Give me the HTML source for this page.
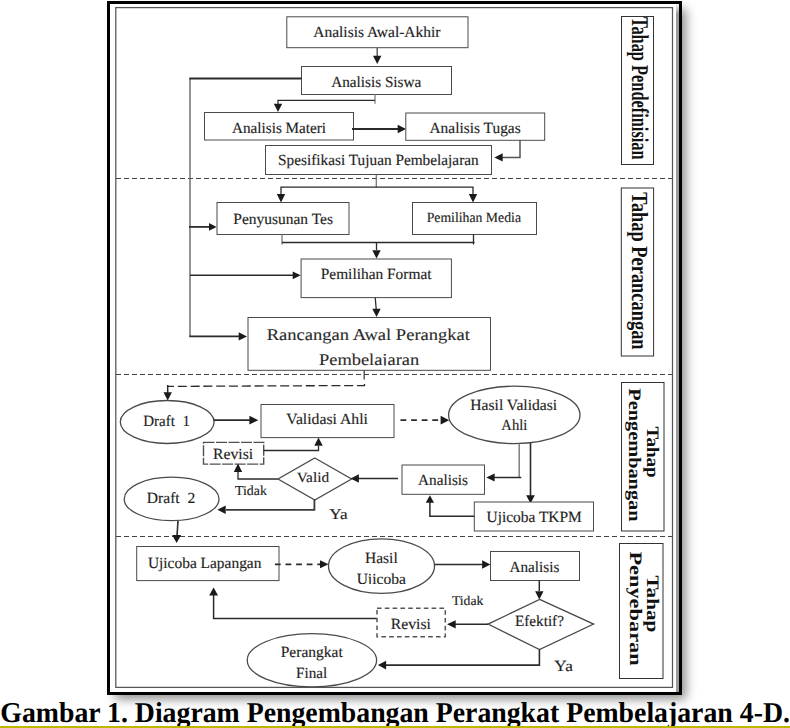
<!DOCTYPE html>
<html><head><meta charset="utf-8"><style>
html,body{margin:0;padding:0;background:#fff;}
body{width:790px;height:728px;overflow:hidden;position:relative;font-family:"Liberation Serif",serif;}
#frame{position:absolute;left:107px;top:1px;width:575px;height:694px;box-shadow:6px 6px 10px -2px rgba(0,0,0,0.45);background:#fff;}
svg{position:absolute;left:0;top:0;font-family:"Liberation Serif",serif;} text{text-rendering:geometricPrecision;}
#cap{position:absolute;left:0;top:726px;width:790px;height:2px;background:#bdb700;}
</style></head><body>
<div id="frame"></div>
<svg width="790" height="728" viewBox="0 0 790 728" font-family="'Liberation Serif', serif">
<rect x="115.8" y="7.6" width="556.7" height="679.8" fill="none" stroke="#555" stroke-width="1.25"/>
<linearGradient id="gs" x1="0" y1="4" x2="0" y2="14" gradientUnits="userSpaceOnUse"><stop offset="0" stop-color="#f4f4f4"/><stop offset="1" stop-color="#9a9a9a"/></linearGradient>
<rect x="676" y="4" width="3" height="688" fill="url(#gs)"/>
<rect x="108.5" y="2.5" width="572" height="691" fill="none" stroke="#000" stroke-width="3"/>
<line x1="116" y1="178.5" x2="672" y2="178.5" stroke="#444" stroke-width="1.2" stroke-dasharray="5 3"/>
<line x1="116" y1="374.5" x2="672" y2="374.5" stroke="#444" stroke-width="1.2" stroke-dasharray="5 3"/>
<line x1="116" y1="536.5" x2="672" y2="536.5" stroke="#444" stroke-width="1.2" stroke-dasharray="5 3"/>
<rect x="286.8" y="16.8" width="181.2" height="30.9" fill="#fff" stroke="#4a4a4a" stroke-width="1"/>
<text x="313.24" y="37.48" font-size="15.5" fill="#1e1e1e" stroke="#1e1e1e" stroke-width="0.15" textLength="127.3" lengthAdjust="spacingAndGlyphs">Analisis Awal-Akhir</text>
<polyline points="377.2,48 377.2,56" fill="none" stroke="#555" stroke-width="1.4"/>
<polygon points="377.2,64 373.0,55.7 381.4,55.7" fill="#1a1a1a"/>
<rect x="301.5" y="66.5" width="150.0" height="28.0" fill="#fff" stroke="#4a4a4a" stroke-width="1"/>
<text x="331.18" y="87.18" font-size="15.5" fill="#1e1e1e" stroke="#1e1e1e" stroke-width="0.15" textLength="90.08" lengthAdjust="spacingAndGlyphs">Analisis Siswa</text>
<polyline points="190,78.6 190,336.4" fill="none" stroke="#666" stroke-width="1.4"/>
<polyline points="301.5,78.6 189.3,78.6" fill="none" stroke="#2b2b2b" stroke-width="2"/>
<polyline points="189.3,336.4 239,336.4" fill="none" stroke="#2b2b2b" stroke-width="1.6"/>
<polygon points="247,336.4 238.7,332.2 238.7,340.59999999999997" fill="#1a1a1a"/>
<polyline points="189,226.9 209,226.9" fill="none" stroke="#2b2b2b" stroke-width="1.8"/>
<polygon points="216.6,226.9 209.0,222.95000000000002 209.0,230.85" fill="#1a1a1a"/>
<polyline points="190,275.3 293,275.3" fill="none" stroke="#2b2b2b" stroke-width="1.5"/>
<polygon points="300.7,275.3 292.7,271.40000000000003 292.7,279.2" fill="#1a1a1a"/>
<polyline points="375,94.5 375,103.7" fill="none" stroke="#888" stroke-width="1.4"/>
<polyline points="375,100.3 278,100.3 278,104" fill="none" stroke="#2b2b2b" stroke-width="1.3"/>
<polygon points="278,112 273.8,103.7 282.2,103.7" fill="#1a1a1a"/>
<rect x="204.5" y="112.5" width="149.0" height="27.5" fill="#fff" stroke="#4a4a4a" stroke-width="1"/>
<text x="232.0" y="132.52" font-size="15.5" fill="#1e1e1e" stroke="#1e1e1e" stroke-width="0.15" textLength="94.08" lengthAdjust="spacingAndGlyphs">Analisis Materi</text>
<polyline points="352,129 398,129" fill="none" stroke="#2b2b2b" stroke-width="2.2"/>
<polygon points="406,129 397.7,124.8 397.7,133.2" fill="#1a1a1a"/>
<rect x="405.8" y="113" width="138.9" height="27.3" fill="#fff" stroke="#4a4a4a" stroke-width="1"/>
<text x="429.46" y="132.52" font-size="15.5" fill="#1e1e1e" stroke="#1e1e1e" stroke-width="0.15" textLength="91.28" lengthAdjust="spacingAndGlyphs">Analisis Tugas</text>
<polyline points="520,140 520,157.4 502,157.4" fill="none" stroke="#555" stroke-width="1.5"/>
<polygon points="494.4,157.4 502.7,153.20000000000002 502.7,161.6" fill="#1a1a1a"/>
<rect x="265.5" y="145.5" width="226.0" height="29.0" fill="#fff" stroke="#4a4a4a" stroke-width="1"/>
<text x="278.02" y="165.1" font-size="15.5" fill="#1e1e1e" stroke="#1e1e1e" stroke-width="0.15" textLength="200.7" lengthAdjust="spacingAndGlyphs">Spesifikasi Tujuan Pembelajaran</text>
<polyline points="376.3,174.5 376.3,187.2" fill="none" stroke="#777" stroke-width="1.3"/>
<polyline points="281,194 281,187.2 473,187.2 473,194" fill="none" stroke="#2b2b2b" stroke-width="1.3"/>
<polygon points="281,202.4 276.8,194.1 285.2,194.1" fill="#1a1a1a"/>
<polygon points="473,202.4 468.8,194.1 477.2,194.1" fill="#1a1a1a"/>
<rect x="217" y="202.5" width="132" height="32.0" fill="#fff" stroke="#4a4a4a" stroke-width="1"/>
<text x="233.28" y="223.8" font-size="15.5" fill="#1e1e1e" stroke="#1e1e1e" stroke-width="0.15" textLength="99.72" lengthAdjust="spacingAndGlyphs">Penyusunan Tes</text>
<rect x="412.5" y="202.5" width="124.0" height="32.0" fill="#fff" stroke="#4a4a4a" stroke-width="1"/>
<text x="426.66" y="221.52" font-size="14.2" fill="#1e1e1e" stroke="#1e1e1e" stroke-width="0.15" textLength="94.34" lengthAdjust="spacingAndGlyphs">Pemilihan Media</text>
<polyline points="282,234.5 282,244.5" fill="none" stroke="#777" stroke-width="1.3"/>
<polyline points="473.5,234.5 473.5,244.5" fill="none" stroke="#2b2b2b" stroke-width="1.3"/>
<polyline points="282,242.5 474.5,242.5" fill="none" stroke="#2b2b2b" stroke-width="1.3"/>
<polyline points="376.5,242.7 376.5,250" fill="none" stroke="#2b2b2b" stroke-width="1.3"/>
<polygon points="376.5,258.6 372.3,250.3 380.7,250.3" fill="#1a1a1a"/>
<rect x="301.1" y="259" width="150.3" height="38.6" fill="#fff" stroke="#4a4a4a" stroke-width="1"/>
<text x="320.74" y="278.98" font-size="15.5" fill="#1e1e1e" stroke="#1e1e1e" stroke-width="0.15" textLength="110.8" lengthAdjust="spacingAndGlyphs">Pemilihan Format</text>
<polyline points="375.2,297.5 376.2,309" fill="none" stroke="#2b2b2b" stroke-width="1.3"/>
<polygon points="376.5,317 372.3,308.7 380.7,308.7" fill="#1a1a1a"/>
<rect x="248" y="317.5" width="242.5" height="52.8" fill="#fff" stroke="#4a4a4a" stroke-width="1"/>
<text x="266.74" y="340.24" font-size="16.5" fill="#2a2a2a" stroke="#2a2a2a" stroke-width="0.1" textLength="203.26" lengthAdjust="spacingAndGlyphs">Rancangan Awal Perangkat</text>
<clipPath id="c1"><rect x="247" y="317" width="244" height="48.6"/></clipPath>
<text x="319.02" y="364.58" font-size="16.5" fill="#2a2a2a" stroke="#2a2a2a" stroke-width="0.1" textLength="100.14" lengthAdjust="spacingAndGlyphs" clip-path="url(#c1)">Pembelajaran</text>
<polyline points="364.2,370.3 364.2,379.4" fill="none" stroke="#444" stroke-width="1.3"/>
<polyline points="364.5,384 364.5,385.5 168,386.4" fill="none" stroke="#2b2b2b" stroke-width="1.3" stroke-dasharray="9 3.8"/>
<polyline points="167.7,385 167.7,393" fill="none" stroke="#2b2b2b" stroke-width="1.5"/>
<polygon points="167.7,400.6 163.5,392.3 171.89999999999998,392.3" fill="#1a1a1a"/>
<ellipse cx="167.2" cy="422" rx="46.9" ry="21.5" fill="#fff" stroke="#4a4a4a" stroke-width="1.3"/>
<text x="143.28" y="425.8" font-size="15.5" fill="#1e1e1e" stroke="#1e1e1e" stroke-width="0.15" textLength="46.72" lengthAdjust="spacingAndGlyphs">Draft&#160;&#160;1</text>
<polyline points="213.6,420.2 250,420.2" fill="none" stroke="#2b2b2b" stroke-width="1.7"/>
<polygon points="258.2,420.2 249.39999999999998,415.8 249.39999999999998,424.59999999999997" fill="#1a1a1a"/>
<rect x="261" y="404.5" width="133" height="33.1" fill="#fff" stroke="#4a4a4a" stroke-width="1"/>
<text x="286.28" y="424.44" font-size="15.5" fill="#1e1e1e" stroke="#1e1e1e" stroke-width="0.15" textLength="81.72" lengthAdjust="spacingAndGlyphs">Validasi Ahli</text>
<polyline points="400.5,420.2 441,420.2" fill="none" stroke="#2b2b2b" stroke-width="1.7" stroke-dasharray="5.8 4.8"/>
<polygon points="449.2,420.2 440.59999999999997,415.84999999999997 440.59999999999997,424.55" fill="#1a1a1a"/>
<ellipse cx="514.3" cy="414.9" rx="65.7" ry="28.7" fill="#fff" stroke="#4a4a4a" stroke-width="1.3"/>
<text x="470.28" y="409.72" font-size="15.5" fill="#1e1e1e" stroke="#1e1e1e" stroke-width="0.15" textLength="86.88" lengthAdjust="spacingAndGlyphs">Hasil Validasi</text>
<text x="501.36" y="430.16" font-size="15.5" fill="#1e1e1e" stroke="#1e1e1e" stroke-width="0.15" textLength="25.92" lengthAdjust="spacingAndGlyphs">Ahli</text>
<rect x="203.5" y="442.4" width="60.2" height="21.7" fill="#fff" stroke="#505050" stroke-width="1.4" stroke-dasharray="11 1.5"/>
<text x="213.02" y="459.16" font-size="15.5" fill="#1e1e1e" stroke="#1e1e1e" stroke-width="0.15" textLength="40.24" lengthAdjust="spacingAndGlyphs">Revisi</text>
<polyline points="263.5,450.5 318.5,450.5 318.5,446" fill="none" stroke="#2b2b2b" stroke-width="1.3"/>
<polygon points="318.5,437.5 314.3,445.8 322.7,445.8" fill="#1a1a1a"/>
<polygon points="314.8,458 351.6,479 314.8,500 278.0,479" fill="#fff" stroke="#4a4a4a" stroke-width="1.3"/>
<text x="296.76" y="481.8" font-size="14.2" fill="#1e1e1e" stroke="#1e1e1e" stroke-width="0.15" textLength="32.32" lengthAdjust="spacingAndGlyphs">Valid</text>
<polyline points="277.8,479 238,479 238,472" fill="none" stroke="#2b2b2b" stroke-width="1.3"/>
<polygon points="238,463.6 233.8,471.90000000000003 242.2,471.90000000000003" fill="#1a1a1a"/>
<text x="235.0" y="495.04" font-size="13.6" fill="#1e1e1e" stroke="#1e1e1e" stroke-width="0.15" textLength="31.82" lengthAdjust="spacingAndGlyphs">Tidak</text>
<polyline points="398,478.5 358,478.5" fill="none" stroke="#2b2b2b" stroke-width="1.6"/>
<polygon points="350.6,478.5 358.90000000000003,474.3 358.90000000000003,482.7" fill="#1a1a1a"/>
<rect x="402" y="465" width="82.5" height="29.3" fill="#fff" stroke="#4a4a4a" stroke-width="1"/>
<text x="418.0" y="484.98" font-size="15.5" fill="#1e1e1e" stroke="#1e1e1e" stroke-width="0.15" textLength="50.0" lengthAdjust="spacingAndGlyphs">Analisis</text>
<polyline points="519.2,443.5 519.2,477.5" fill="none" stroke="#777" stroke-width="1.4"/>
<polyline points="521.3,477.5 493,477.5" fill="none" stroke="#2b2b2b" stroke-width="1.5"/>
<polygon points="486.3,477.5 494.6,473.45 494.6,481.55" fill="#1a1a1a"/>
<polyline points="530.5,443 530.5,496" fill="none" stroke="#2b2b2b" stroke-width="1.6"/>
<polygon points="530.5,503.5 526.2,495.3 534.8,495.3" fill="#1a1a1a"/>
<rect x="474.3" y="502" width="119.2" height="29" fill="#fff" stroke="#4a4a4a" stroke-width="1"/>
<text x="486.56" y="521.88" font-size="15.5" fill="#1e1e1e" stroke="#1e1e1e" stroke-width="0.15" textLength="95.24" lengthAdjust="spacingAndGlyphs">Ujicoba TKPM</text>
<polyline points="474.3,516.3 429.9,516.3 429.9,502" fill="none" stroke="#2b2b2b" stroke-width="1.5"/>
<polygon points="429.9,495.3 425.75,502.8 434.04999999999995,502.8" fill="#1a1a1a"/>
<polyline points="314.4,499.5 314.4,509.8 226,509.8" fill="none" stroke="#3a3a3a" stroke-width="1.8"/>
<polygon points="217.4,509.8 225.70000000000002,505.6 225.70000000000002,514.0" fill="#1a1a1a"/>
<text x="329.28" y="519.12" font-size="15" fill="#1e1e1e" stroke="#1e1e1e" stroke-width="0.15" textLength="18.26" lengthAdjust="spacingAndGlyphs">Ya</text>
<ellipse cx="171.6" cy="498.9" rx="47.4" ry="21.7" fill="#fff" stroke="#4a4a4a" stroke-width="1.3"/>
<text x="146.84" y="502.62" font-size="15.5" fill="#1e1e1e" stroke="#1e1e1e" stroke-width="0.15" textLength="48.42" lengthAdjust="spacingAndGlyphs">Draft&#160;&#160;2</text>
<polyline points="178,521 177,536" fill="none" stroke="#2b2b2b" stroke-width="1.6"/>
<polygon points="176.6,543.1 172.1,535.1 181.1,535.1" fill="#1a1a1a"/>
<rect x="136.7" y="546.5" width="142.3" height="34.1" fill="#fff" stroke="#4a4a4a" stroke-width="1"/>
<text x="147.92" y="568.44" font-size="15.5" fill="#1e1e1e" stroke="#1e1e1e" stroke-width="0.15" textLength="113.52" lengthAdjust="spacingAndGlyphs">Ujicoba Lapangan</text>
<polyline points="274.9,564.3 321,564.3" fill="none" stroke="#2b2b2b" stroke-width="1.7" stroke-dasharray="5.8 4.8"/>
<polygon points="328.5,564.3 320.0,560.25 320.0,568.3499999999999" fill="#1a1a1a"/>
<ellipse cx="381.5" cy="566.1" rx="53" ry="27.3" fill="#fff" stroke="#4a4a4a" stroke-width="1.3"/>
<text x="364.92" y="562.9" font-size="15.5" fill="#1e1e1e" stroke="#1e1e1e" stroke-width="0.15" textLength="32.8" lengthAdjust="spacingAndGlyphs">Hasil</text>
<clipPath id="c2"><rect x="330" y="540" width="104" height="44"/></clipPath>
<text x="356.66" y="583.54" font-size="15.5" fill="#1e1e1e" stroke="#1e1e1e" stroke-width="0.15" textLength="49.16" lengthAdjust="spacingAndGlyphs" clip-path="url(#c2)">Ujicoba</text>
<polyline points="434.8,564.5 482.4,564.5" fill="none" stroke="#2b2b2b" stroke-width="1.4"/>
<polygon points="490.4,564.5 482.09999999999997,560.3 482.09999999999997,568.7" fill="#1a1a1a"/>
<rect x="490.5" y="551.5" width="89.0" height="29.0" fill="#fff" stroke="#4a4a4a" stroke-width="1"/>
<text x="509.56" y="571.98" font-size="15.5" fill="#1e1e1e" stroke="#1e1e1e" stroke-width="0.15" textLength="49.8" lengthAdjust="spacingAndGlyphs">Analisis</text>
<polyline points="539.3,580.5 539.3,591" fill="none" stroke="#2b2b2b" stroke-width="1.5"/>
<polygon points="539.3,599.5 535.0999999999999,591.2 543.5,591.2" fill="#1a1a1a"/>
<polygon points="539.6,599.4 593.6,624.1 539.5,649.5 488.1,624.1" fill="#fff" stroke="#4a4a4a" stroke-width="1.3"/>
<text x="514.92" y="626.38" font-size="15.5" fill="#1e1e1e" stroke="#1e1e1e" stroke-width="0.15" textLength="49.06" lengthAdjust="spacingAndGlyphs">Efektif?</text>
<text x="451.92" y="605.32" font-size="13.4" fill="#1e1e1e" stroke="#1e1e1e" stroke-width="0.15" textLength="31.54" lengthAdjust="spacingAndGlyphs">Tidak</text>
<polyline points="488,624.3 454,624.3" fill="none" stroke="#2b2b2b" stroke-width="1.6"/>
<polygon points="447,624.3 455.7,620.1999999999999 455.7,628.4" fill="#1a1a1a"/>
<rect x="377" y="608.3" width="68.3" height="28.4" fill="#fff" stroke="#555" stroke-width="1.5" stroke-dasharray="4.6 3.2"/>
<text x="390.66" y="628.8" font-size="15.5" fill="#1e1e1e" stroke="#1e1e1e" stroke-width="0.15" textLength="40.24" lengthAdjust="spacingAndGlyphs">Revisi</text>
<polyline points="376.5,618.4 213.6,618.4 213.6,595" fill="none" stroke="#2b2b2b" stroke-width="1.5"/>
<polygon points="213.6,587.4 209.15,595.6 218.04999999999998,595.6" fill="#1a1a1a"/>
<polyline points="539.4,649.5 539.4,665.1 385,665.1" fill="none" stroke="#2b2b2b" stroke-width="1.6"/>
<polygon points="377.9,665.1 386.09999999999997,660.8000000000001 386.09999999999997,669.4" fill="#1a1a1a"/>
<text x="554.38" y="671.16" font-size="15.5" fill="#1e1e1e" stroke="#1e1e1e" stroke-width="0.15" textLength="18.44" lengthAdjust="spacingAndGlyphs">Ya</text>
<ellipse cx="311.9" cy="660.3" rx="64.7" ry="26.6" fill="#fff" stroke="#4a4a4a" stroke-width="1.3"/>
<text x="280.74" y="656.7" font-size="15.5" fill="#1e1e1e" stroke="#1e1e1e" stroke-width="0.15" textLength="61.98" lengthAdjust="spacingAndGlyphs">Perangkat</text>
<text x="296.1" y="677.62" font-size="15.5" fill="#1e1e1e" stroke="#1e1e1e" stroke-width="0.15" textLength="31.16" lengthAdjust="spacingAndGlyphs">Final</text>
<rect x="621.5" y="16.5" width="32.0" height="148.0" fill="#fff" stroke="#333" stroke-width="1"/>
<rect x="621.3" y="188" width="32.3" height="168" fill="#fff" stroke="#333" stroke-width="1"/>
<rect x="621.5" y="382.5" width="42.5" height="148.5" fill="#fff" stroke="#333" stroke-width="1"/>
<rect x="619.5" y="543.5" width="43.5" height="135.0" fill="#fff" stroke="#333" stroke-width="1"/>
<text transform="translate(631.5,17) rotate(90)" x="0" y="0" font-size="24" font-weight="bold" fill="#111" textLength="142.6" lengthAdjust="spacingAndGlyphs">Tahap Pendefinisian</text>
<text transform="translate(631.5,192.3) rotate(90)" x="0" y="0" font-size="23" font-weight="bold" fill="#111" textLength="157.3" lengthAdjust="spacingAndGlyphs">Tahap Perancangan</text>
<text transform="translate(647.2,426.4) rotate(90)" x="0" y="0" font-size="17.5" font-weight="bold" fill="#111" textLength="51.3" lengthAdjust="spacingAndGlyphs">Tahap</text>
<text transform="translate(628.9,388.3) rotate(90)" x="0" y="0" font-size="17.5" font-weight="bold" fill="#111" textLength="133.2" lengthAdjust="spacingAndGlyphs">Pengembangan</text>
<text transform="translate(647.3,575.4) rotate(90)" x="0" y="0" font-size="17.5" font-weight="bold" fill="#111" textLength="57" lengthAdjust="spacingAndGlyphs">Tahap</text>
<text transform="translate(630.2,551.4) rotate(90)" x="0" y="0" font-size="17.5" font-weight="bold" fill="#111" textLength="114.3" lengthAdjust="spacingAndGlyphs">Penyebaran</text>
<text x="0.3" y="722" font-size="28.8" font-weight="bold" fill="#000" textLength="789.6" lengthAdjust="spacingAndGlyphs">Gambar 1. Diagram Pengembangan Perangkat Pembelajaran 4-D.</text>
</svg>
<div id="cap"></div>
</body></html>
